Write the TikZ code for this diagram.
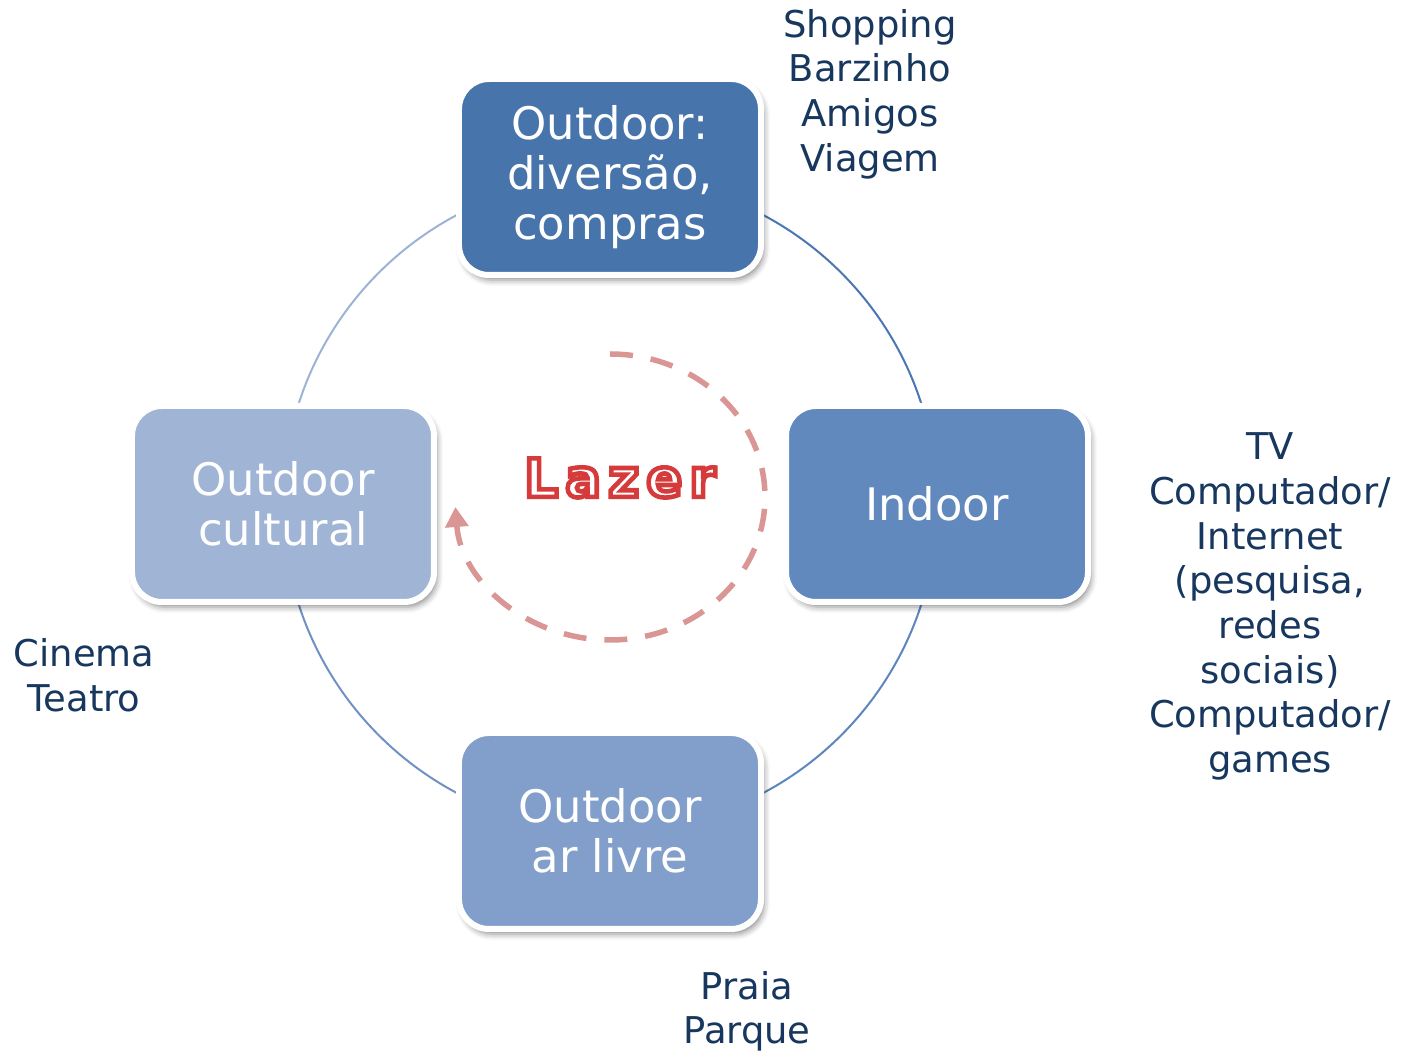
\documentclass[tikz,border=0pt]{standalone}
\usepackage{fontspec}
\setmainfont{DejaVu Sans}
\newfontfamily\lazerfont[LetterSpace=14]{DejaVu Sans}
\usetikzlibrary{positioning, shapes, arrows.meta, backgrounds, shadows.blur}

\definecolor{azulA}{RGB}{71,116,171}
\definecolor{azulB}{RGB}{98,137,189}
\definecolor{azulC}{RGB}{129,159,202}
\definecolor{azulD}{RGB}{160,180,214}
\definecolor{arcoA}{RGB}{74,118,180}
\definecolor{arcoB}{RGB}{93,133,191}
\definecolor{arcoC}{RGB}{111,145,196}
\definecolor{arcoD}{RGB}{156,179,214}
\definecolor{texto}{RGB}{23,55,94}
\definecolor{rosa}{RGB}{217,150,148}

% texto branco com contorno vermelho
\newcommand{\contornado}[1]{{\color{white}\special{pdf:literal direct 2 Tr 2.6 w 0.839 0.231 0.231 RG}#1\special{pdf:literal direct 0 Tr 0.4 w}}}

\begin{document}
\begin{tikzpicture}[
    fase/.style={rectangle, rounded corners=0.6cm, draw=white, line width=0.12cm,
      minimum width=6.04cm, minimum height=3.92cm, text=white, align=center,
      font=\fontsize{25.5}{28.5}\selectfont,
      blur shadow={shadow xshift=0.06cm, shadow yshift=-0.1cm, shadow blur radius=0.12cm, shadow opacity=45}},
    lista/.style={text=texto, align=center, font=\fontsize{21}{25.4}\selectfont},
    arco/.style={line width=0.04cm},
    ciclo/.style={rosa, line width=0.11cm, dash pattern=on 0.46cm off 0.36cm,
      -{Triangle[length=0.4cm, width=0.45cm]}}
  ]
  \useasboundingbox (-12.2,-11.0) rectangle (15.94,10.08);

  % Caixas do ciclo
  \node[fase, fill=azulA] (compras) at (90:6.54) {Outdoor:\\diversão,\\compras};
  \node[fase, fill=azulB] (indoor) at (0:6.54) {Indoor};
  \node[fase, fill=azulC] (livre) at (270:6.54) {Outdoor\\ar livre};
  \node[fase, fill=azulD] (cultural) at (180:6.54) {Outdoor\\cultural};

  % Arcos do circulo (por tras das caixas)
  \begin{scope}[on background layer]
    \draw[arco, arcoA] (compras.center) arc[start angle=90, end angle=0, radius=6.54cm];
    \draw[arco, arcoB] (indoor.center) arc[start angle=0, end angle=-90, radius=6.54cm];
    \draw[arco, arcoC] (livre.center) arc[start angle=270, end angle=180, radius=6.54cm];
    \draw[arco, arcoD] (cultural.center) arc[start angle=180, end angle=90, radius=6.54cm];
  \end{scope}

  % Centro: Lazer e seta tracejada
  \node[font=\lazerfont\bfseries\fontsize{30}{34}\selectfont] (lazer) at (0.2,0.52) {\contornado{Lazer}};
  \coordinate (inicio) at (0,3.0);
  \draw[ciclo] (inicio) arc[start angle=90, end angle=-176, x radius=3.1cm, y radius=2.86cm];

  % Exemplos de cada tipo
  \node[lista] (shopping) at (5.2,8.2) {Shopping\\Barzinho\\Amigos\\Viagem};
  \node[lista] (tv) at (13.2,-2.05) {TV\\Computador/\\Internet\\(pesquisa,\\redes\\sociais)\\Computador/\\games};
  \node[lista] (cinema) at (-10.52,-3.43) {Cinema\\Teatro};
  \node[lista] (praia) at (2.74,-10.15) {Praia\\Parque};
\end{tikzpicture}
\end{document}
